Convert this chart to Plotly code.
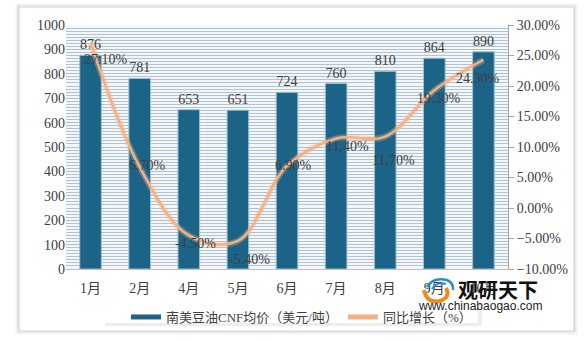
import plotly.graph_objects as go

months = ["1月", "2月", "4月", "5月", "6月", "7月", "8月", "9月", "10月"]
price = [876, 781, 653, 651, 724, 760, 810, 864, 890]
growth = [27.10, 6.70, -4.50, -5.40, 6.90, 11.40, 11.70, 19.30, 24.30]
price_name = "南美豆油CNF均价（美元/吨）"
growth_name = "同比增长（%）"

# label offsets (px) for growth labels, styling only
lab_dx = [15, 8, 7, 12, 6, 11, 8, 5, -5]
lab_dy = [-17, 2, -8, -19, 0, -8, -24, -8, -19]

FONT = "Liberation Serif, Noto Sans CJK SC, serif"
TXT = "#404040"
BAR = "#1B6487"
LINE = "#F4B183"

W, H = 585, 341
L, R, T, B = 66, 77, 25, 72
PW, PH = W - L - R, H - T - B


def px(x):
    return (x - L) / PW


def py(y):
    return (H - B - y) / PH


fig = go.Figure()

fig.add_trace(go.Bar(
    x=months, y=price, name=price_name, showlegend=False,
    marker=dict(color=BAR, line=dict(color="#9fbfd2", width=1)),
    width=0.44,
    text=[str(v) for v in price], textposition="outside",
    textfont=dict(family=FONT, size=14, color=TXT),
    cliponaxis=False,
))
# legend entry for bars (wide rectangle symbol)
fig.add_trace(go.Scatter(
    x=[None], y=[None], mode="lines", name=price_name,
    line=dict(color=BAR, width=6),
))

# glow under line
fig.add_trace(go.Scatter(
    x=months, y=growth, yaxis="y2", mode="lines",
    line=dict(color="rgba(244,177,131,0.35)", width=6, shape="spline", smoothing=1.0),
    showlegend=False, hoverinfo="skip",
))
fig.add_trace(go.Scatter(
    x=months, y=growth, yaxis="y2", mode="lines", name=growth_name,
    line=dict(color=LINE, width=2.5, shape="spline", smoothing=1.0),
))

for m, g, dx, dy in zip(months, growth, lab_dx, lab_dy):
    fig.add_annotation(
        x=m, y=g, yref="y2", text=f"{g:.2f}%", showarrow=False,
        xshift=dx, yshift=dy, font=dict(family=FONT, size=14, color=TXT),
    )

shapes = []
# outer card shadow as outlines (do not cover plot area)
cx0, cx1, cy0, cy1 = 20, 573, 8, 330
for i, c in enumerate(["#f5f5f5", "#ececec", "#e0e0e0", "#d4d4d4"]):
    o = 4 - i
    shapes.append(dict(type="rect", xref="paper", yref="paper",
                       x0=px(cx0 - o), x1=px(cx1 + o), y0=py(cy1 + o), y1=py(cy0 - o),
                       line=dict(width=1.2, color=c), fillcolor="rgba(0,0,0,0)",
                       layer="above"))
# legend box with soft shadow
shapes.append(dict(type="rect", xref="paper", yref="paper",
                   x0=px(105), x1=px(482), y0=py(326), y1=py(304),
                   line=dict(width=0), fillcolor="#eeeeee", layer="below"))
shapes.append(dict(type="rect", xref="paper", yref="paper",
                   x0=px(102), x1=px(478), y0=py(323), y1=py(302),
                   line=dict(width=0), fillcolor="white", layer="below"))
# logo icon approximation
shapes.append(dict(type="path", xref="paper", yref="paper",
                   path=(f"M {px(424)},{py(290)} Q {px(427)},{py(304)} {px(440)},{py(301)} "
                         f"Q {px(451)},{py(297)} {px(446)},{py(288)}"),
                   line=dict(color="#F08A1C", width=4)))
shapes.append(dict(type="path", xref="paper", yref="paper",
                   path=(f"M {px(427)},{py(287)} Q {px(433)},{py(277)} {px(447)},{py(280)} "
                         f"Q {px(454)},{py(283)} {px(453)},{py(290)}"),
                   line=dict(color="#2A8CC8", width=2.5)))
shapes.append(dict(type="path", xref="paper", yref="paper",
                   path=(f"M {px(432)},{py(289)} Q {px(437)},{py(281)} {px(446)},{py(284)}"),
                   line=dict(color="#2A8CC8", width=2)))

fig.add_annotation(xref="paper", yref="paper", x=px(498), y=py(289),
                   xanchor="center", yanchor="middle",
                   text="<b>观研天下</b>", showarrow=False,
                   font=dict(family="Noto Sans CJK SC", size=20, color="#111111"))
fig.add_annotation(xref="paper", yref="paper", x=px(480), y=py(306),
                   xanchor="center", yanchor="middle",
                   text="www.chinabaogao.com", showarrow=False,
                   font=dict(family="Liberation Sans, Arial", size=12, color="#222222"))

fig.update_layout(
    width=W, height=H,
    margin=dict(l=L, r=R, t=T, b=B, autoexpand=False),
    paper_bgcolor="white",
    plot_bgcolor="#f4f7fa",
    font=dict(family=FONT, size=13, color=TXT),
    showlegend=True,
    legend=dict(orientation="h", x=px(126), xanchor="left", y=py(302), yanchor="top",
                bgcolor="rgba(0,0,0,0)", font=dict(family=FONT, size=13, color=TXT),
                tracegroupgap=0, itemsizing="constant"),
    shapes=shapes,
    xaxis=dict(showline=True, linecolor="#bfbfbf", linewidth=1, ticks="",
               ticklabelstandoff=6,
               tickfont=dict(family=FONT, size=14, color=TXT), showgrid=False),
    yaxis=dict(range=[0, 1000], dtick=100, showline=False, ticks="", showgrid=True,
               gridcolor="#aebfcf", gridwidth=1,
               minor=dict(dtick=12.5, showgrid=True, gridcolor="#b3c3d2", gridwidth=1),
               tickfont=dict(family=FONT, size=14, color=TXT), zeroline=False),
    yaxis2=dict(range=[-10, 30], dtick=5, overlaying="y", side="right",
                showline=True, linecolor="#a6a6a6", ticks="outside", ticklen=5,
                tickcolor="#a6a6a6", showgrid=False, zeroline=False,
                tickformat=".2f", ticksuffix="%",
                tickfont=dict(family=FONT, size=14, color=TXT)),
)

fig.write_html("out.html")
